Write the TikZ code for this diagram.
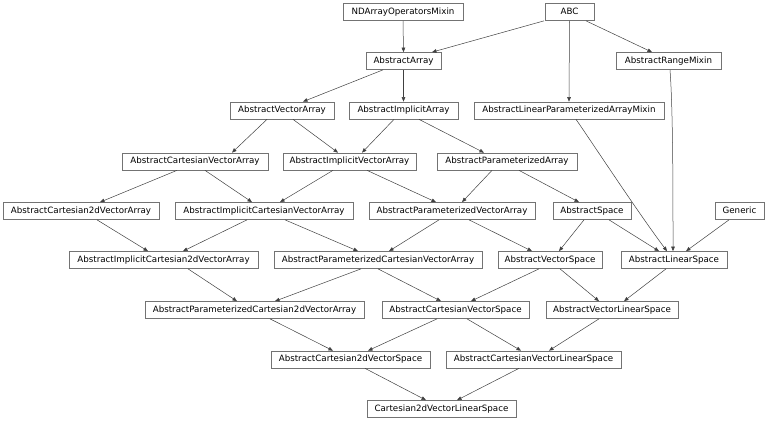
\documentclass[tikz,border=0pt]{standalone}
\usepackage{fontspec}
\setmainfont{DejaVu Sans}
\usetikzlibrary{arrows.meta}
\tikzset{
  cls/.style={draw=black!55, line width=0.7pt, fill=white, inner sep=0pt,
    minimum height=17pt, font=\fontsize{8.7pt}{10pt}\selectfont,
    text height=6.6pt, text depth=1.8pt},
  edge/.style={draw=black!75, line width=0.5pt,
    -{Triangle[length=4.5pt,width=3.6pt]}},
}
\newcommand{\edg}[4]{\draw[edge] ([xshift=#2pt]#1.south) -- ([xshift=#4pt]#3.north);}
\begin{document}
\begin{tikzpicture}[x=1pt,y=-1pt]
\useasboundingbox (0,0) rectangle (768,421);
% row 1
\node[cls, minimum width=120pt] (ndm) at (403,12) {NDArrayOperatorsMixin};
\node[cls, minimum width=49pt] (abc) at (569.5,12) {ABC};
% row 2
\node[cls, minimum width=75pt] (aa) at (403.5,61) {AbstractArray};
\node[cls, minimum width=105pt] (arm) at (668.5,61) {AbstractRangeMixin};
% row 3
\node[cls, minimum width=104pt] (ava) at (282,110.5) {AbstractVectorArray};
\node[cls, minimum width=109pt] (aia) at (403.5,110.5) {AbstractImplicitArray};
\node[cls, minimum width=190pt] (alp) at (569,110.5) {AbstractLinearParameterizedArrayMixin};
% row 4
\node[cls, minimum width=146pt] (acva) at (195,161.5) {AbstractCartesianVectorArray};
\node[cls, minimum width=133pt] (aiva) at (349.5,161.5) {AbstractImplicitVectorArray};
\node[cls, minimum width=140pt] (apa) at (507,161.5) {AbstractParameterizedArray};
% row 5
\node[cls, minimum width=156pt] (ac2va) at (81,211) {AbstractCartesian2dVectorArray};
\node[cls, minimum width=178pt] (aicva) at (264,211) {AbstractImplicitCartesianVectorArray};
\node[cls, minimum width=166pt] (apva) at (452,211) {AbstractParameterizedVectorArray};
\node[cls, minimum width=78pt] (asp) at (592,211) {AbstractSpace};
\node[cls, minimum width=49pt] (gen) at (739.5,211) {Generic};
% row 6
\node[cls, minimum width=189pt] (aic2va) at (163.5,260) {AbstractImplicitCartesian2dVectorArray};
\node[cls, minimum width=208pt] (apcva) at (378,260) {AbstractParameterizedCartesianVectorArray};
\node[cls, minimum width=104pt] (avs) at (550,260) {AbstractVectorSpace};
\node[cls, minimum width=106pt] (als) at (674,260) {AbstractLinearSpace};
% row 7
\node[cls, minimum width=219pt] (apc2va) at (254.5,310) {AbstractParameterizedCartesian2dVectorArray};
\node[cls, minimum width=147pt] (acvs) at (455.5,310) {AbstractCartesianVectorSpace};
\node[cls, minimum width=132pt] (avls) at (612,310) {AbstractVectorLinearSpace};
% row 8
\node[cls, minimum width=159pt] (ac2vs) at (350.5,359.5) {AbstractCartesian2dVectorSpace};
\node[cls, minimum width=175pt] (acvls) at (533.5,359.5) {AbstractCartesianVectorLinearSpace};
% row 9
\node[cls, minimum width=149pt] (c2vls) at (441.5,409) {Cartesian2dVectorLinearSpace};
% edges
\edg{ndm}{0}{aa}{0}
\edg{abc}{-25.5}{aa}{28.5}
\edg{abc}{0}{alp}{0}
\edg{abc}{16.5}{arm}{-16.5}
\edg{aa}{-20.5}{ava}{21}
\edg{aa}{0}{aia}{0}
\edg{ava}{-15}{acva}{37}
\edg{ava}{11}{aiva}{-11.5}
\edg{aia}{-9.5}{aiva}{12.5}
\edg{aia}{15.5}{apa}{-23}
\edg{apa}{-15}{apva}{10}
\edg{apa}{12}{asp}{-13}
\edg{acva}{-18}{ac2va}{19}
\edg{acva}{10}{aicva}{-12}
\edg{aiva}{-16.5}{aicva}{16}
\edg{aiva}{17.5}{apva}{-16}
\edg{ac2va}{16}{aic2va}{-15.5}
\edg{aicva}{-17}{aic2va}{19.5}
\edg{aicva}{21}{apcva}{-20}
\edg{apva}{-13}{apcva}{11}
\edg{apva}{17}{avs}{-18}
\edg{asp}{-8}{avs}{9}
\edg{asp}{17}{als}{-15}
\edg{gen}{-10.5}{als}{12}
\draw[edge] ([xshift=1.5pt]arm.south) .. controls +(3,40) and +(0,-60) .. ([xshift=-1pt]als.north);
\draw[edge] ([xshift=7pt]alp.south) .. controls +(14,20) and +(-30,-40) .. ([xshift=-7pt]als.north);
\edg{aic2va}{24.5}{apc2va}{-17.5}
\edg{apcva}{-17}{apc2va}{20.5}
\edg{apcva}{0}{acvs}{-14.5}
\edg{avs}{-11}{acvs}{15.5}
\edg{avs}{10}{avls}{-13}
\edg{als}{-8}{avls}{12}
\edg{apc2va}{15.5}{ac2vs}{-17.5}
\edg{acvs}{-18.5}{ac2vs}{17.5}
\edg{acvs}{11.5}{acvls}{-12.5}
\edg{avls}{-13}{acvls}{15.5}
\edg{ac2vs}{14.5}{c2vls}{-15.5}
\edg{acvls}{-14.5}{c2vls}{15.5}
\end{tikzpicture}
\end{document}
